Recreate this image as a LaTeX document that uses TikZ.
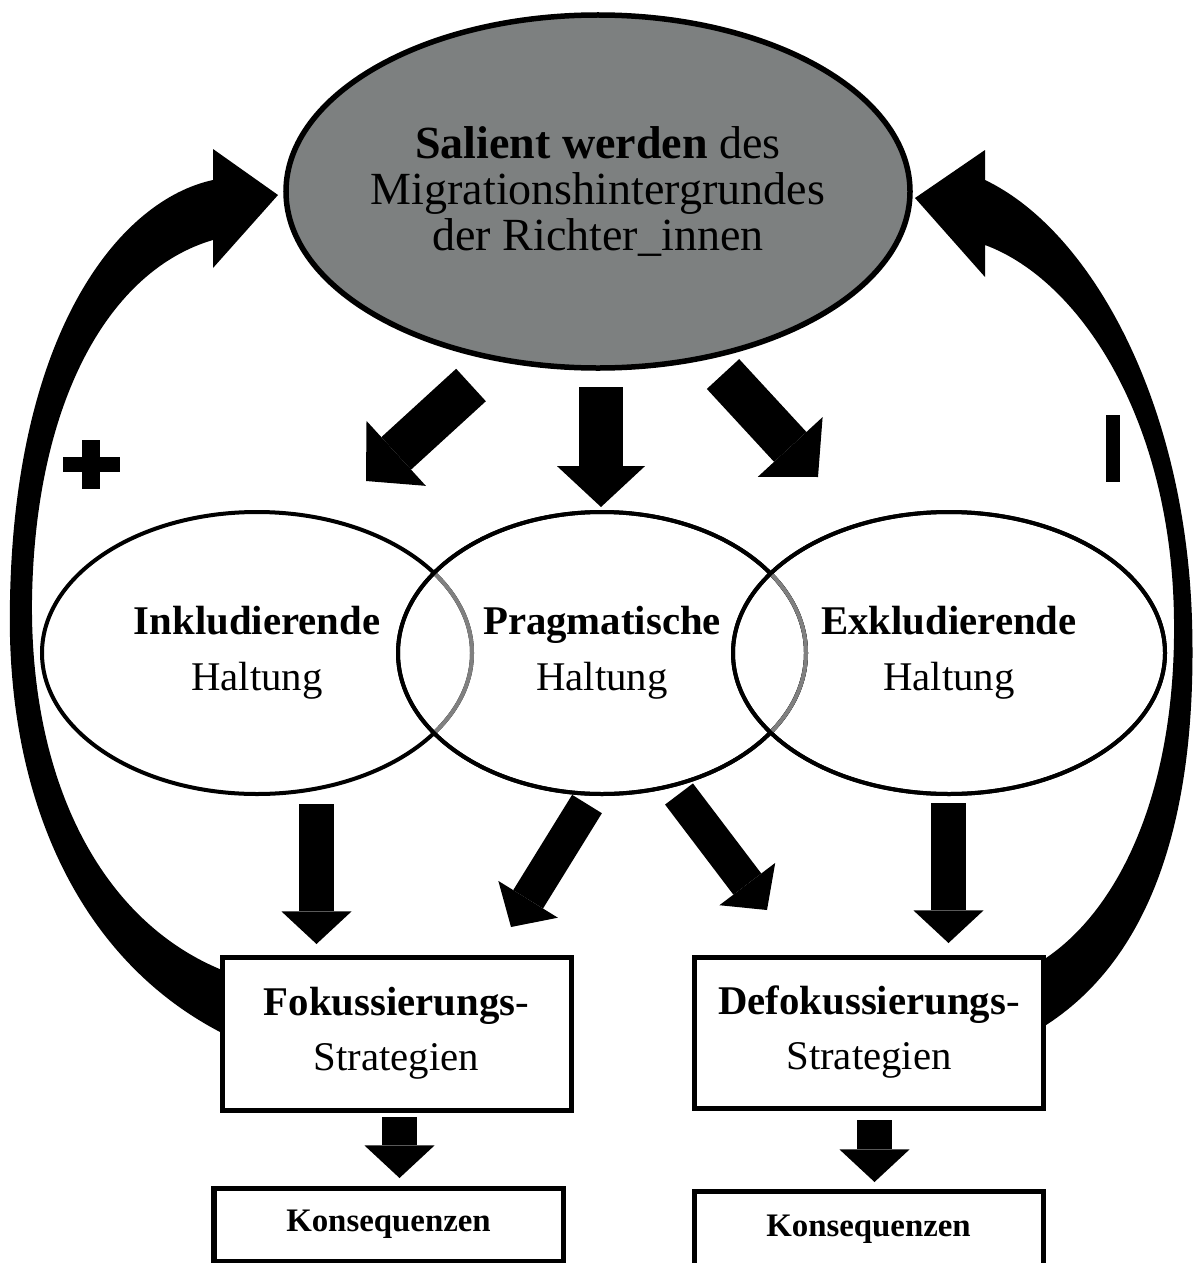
\documentclass[tikz,border=0pt]{standalone}
\usepackage{fontspec}
\setmainfont{Liberation Serif}
\usetikzlibrary{arrows.meta,shapes.geometric}
\definecolor{salgray}{RGB}{125,128,128}

\tikzset{
  salient/.style={draw,ellipse,fill=salgray,line width=1.1mm,minimum width=124.8mm,minimum height=70.6mm},
  haltung/.style={draw,ellipse,line width=0.8mm,minimum height=56.4mm,align=center,font=\fontsize{23.2}{31.8}\selectfont},
  strat/.style={draw,line width=1mm,minimum width=69.8mm,align=center,font=\fontsize{23.2}{31.3}\selectfont},
  konsbox/.style={draw,line width=1mm,minimum width=69.8mm,font=\fontsize{18.7}{20}\selectfont\bfseries},
  blockarrow/.style={line width=#1,-{Triangle[length=0pt 0.93,width=0pt 2,line width=0pt]}}
}

\begin{document}
\begin{tikzpicture}[x=0.2mm,y=-0.2mm]
  \useasboundingbox (0,0) rectangle (1198,1263);
  % top ellipse
  \node[salient] (sal) at (598,191.5){};
  \node[align=center,font=\fontsize{26.2}{25.9}\selectfont] (saltext) at (sal.center)
    {\textbf{Salient werden} des\\Migrationshintergrundes\\der Richter\_innen};
  % the three attitudes
  \node[haltung,minimum width=86mm] (inkl) at (257,653){\textbf{Inkludierende}\\Haltung};
  \node[haltung,minimum width=81.6mm] (prag) at (602,653){\textbf{Pragmatische}\\Haltung};
  \node[haltung,minimum width=86.4mm] (exkl) at (949,653){\textbf{Exkludierende}\\Haltung};
  % grey arcs where they overlap
  \begin{scope}
    \clip (prag.center) ellipse [x radius=40.8mm,y radius=28.2mm];
    \draw[gray,line width=0.8mm] (inkl.center) ellipse [x radius=43mm,y radius=28.2mm];
  \end{scope}
  \draw[line width=0.8mm] (prag.center) ellipse [x radius=40.8mm,y radius=28.2mm];
  \begin{scope}
    \clip (exkl.center) ellipse [x radius=43.2mm,y radius=28.2mm];
    \draw[gray,line width=0.8mm] (prag.center) ellipse [x radius=40.8mm,y radius=28.2mm];
  \end{scope}
  \draw[line width=0.8mm] (exkl.center) ellipse [x radius=43.2mm,y radius=28.2mm];
  % strategies and consequences
  \node[strat,minimum height=30.6mm] (fok) at (396.5,1033.5){\textbf{Fokussierungs}-\\Strategien};
  \node[strat,minimum height=30.2mm] (defok) at (869,1032.5){\textbf{Defokussierungs}-\\Strategien};
  \node[konsbox,minimum height=14.6mm] (kons1) at (388.5,1224.5){Konsequenzen};
  \node[konsbox,minimum height=15.2mm] (kons2) at (868.5,1229){Konsequenzen};
  % block arrows
  \coordinate (t1) at (471,385);   \coordinate (t1e) at (366,481);
  \coordinate (t2) at (601,387);   \coordinate (t2e) at (601,507);
  \coordinate (t3) at (723,374);   \coordinate (t3e) at (818,477);
  \coordinate (m1) at (316.5,804); \coordinate (m1e) at (316.5,944);
  \coordinate (m2) at (587,804);   \coordinate (m2e) at (511,927);
  \coordinate (m3) at (679,794);   \coordinate (m3e) at (767,910);
  \coordinate (m4) at (948.5,803); \coordinate (m4e) at (948.5,943);
  \coordinate (b1) at (399.5,1117);\coordinate (b1e) at (399.5,1178);
  \coordinate (b2) at (874.5,1120);\coordinate (b2e) at (874.5,1182);
  \foreach \s/\e in {t1/t1e,t2/t2e,t3/t3e}
    \draw[blockarrow=8.8mm] (\s) -- (\e);
  \foreach \s/\e in {m1/m1e,m2/m2e,m3/m3e,m4/m4e,b1/b1e,b2/b2e}
    \draw[blockarrow=7mm] (\s) -- (\e);
  % feedback arrows
  \fill (222,1033) .. controls (80,960) and (5,800) .. (10,600)
    .. controls (15,330) and (120,200) .. (213,180)
    -- (213,149) -- (278,195) -- (213,268) -- (213,240)
    .. controls (110,270) and (35,400) .. (32,600)
    .. controls (30,780) and (100,920) .. (222,970) -- cycle;
  \fill (1043,1027) .. controls (1150,960) and (1198,820) .. (1192,620)
    .. controls (1185,400) and (1090,230) .. (985,180)
    -- (985,150) -- (915,198) -- (985,277) -- (985,245)
    .. controls (1080,280) and (1172,420) .. (1174,620)
    .. controls (1176,790) and (1120,910) .. (1043,960) -- cycle;
  % plus and minus
  \fill (63,457) rectangle (120,472);
  \fill (82,440) rectangle (100,489);
  \fill (1106,415) rectangle (1120,482);
\end{tikzpicture}
\end{document}
